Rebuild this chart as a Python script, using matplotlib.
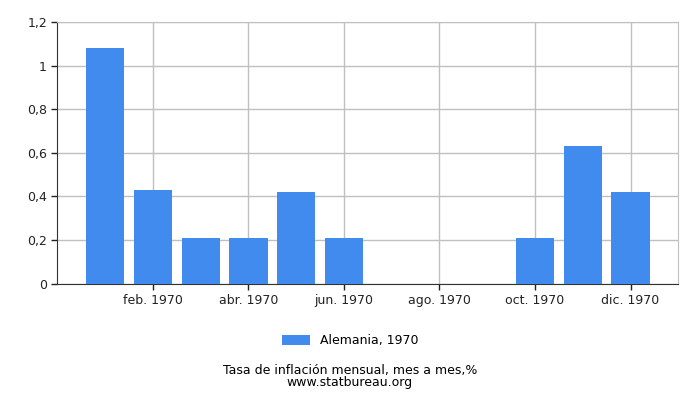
import matplotlib
matplotlib.use('Agg')
import matplotlib.pyplot as plt

months = ['ene. 1970', 'feb. 1970', 'mar. 1970', 'abr. 1970', 'may. 1970', 'jun. 1970',
          'jul. 1970', 'ago. 1970', 'sep. 1970', 'oct. 1970', 'nov. 1970', 'dic. 1970']
values = [1.08, 0.43, 0.21, 0.21, 0.42, 0.21, 0, 0, 0, 0.21, 0.63, 0.42]
yticks = [0, 0.2, 0.4, 0.6, 0.8, 1.0, 1.2]
ylabels = ['0', '0,2', '0,4', '0,6', '0,8', '1', '1,2']

plt.rcParams['font.family'] = 'DejaVu Sans'
fig = plt.figure(figsize=(7, 4), dpi=100)
ax = fig.add_axes([0.082, 0.291, 0.887, 0.654])

x = list(range(len(months)))
ax.bar(x, values, width=0.8, color='#418bee', label='Alemania, 1970', zorder=3)

ax.set_xlim(-1, 12)
ax.set_ylim(0, 1.2)
ax.set_xticks(x[1::2])
ax.set_xticklabels(months[1::2], fontsize=9)
ax.set_yticks(yticks)
ax.set_yticklabels(ylabels, fontsize=9)
ax.grid(True, color='#c0c0c0', linewidth=1, zorder=0)
for s in ['top', 'right']:
    ax.spines[s].set_color('#c0c0c0')
for s in ['left', 'bottom']:
    ax.spines[s].set_color('#333333')
ax.tick_params(colors='#222222', length=4, width=1)

fig.legend(loc='center', bbox_to_anchor=(0.5, 0.148), frameon=False, fontsize=9,
           handlelength=2.2, handleheight=0.8)
# two caption lines, kept in one text so they sit tight like the original
fig.text(0.5, 0.059, 'Tasa de inflación mensual, mes a mes,%\nwww.statbureau.org',
         ha='center', va='center', fontsize=9, linespacing=0.95)

fig.savefig('out.png', dpi=100)
